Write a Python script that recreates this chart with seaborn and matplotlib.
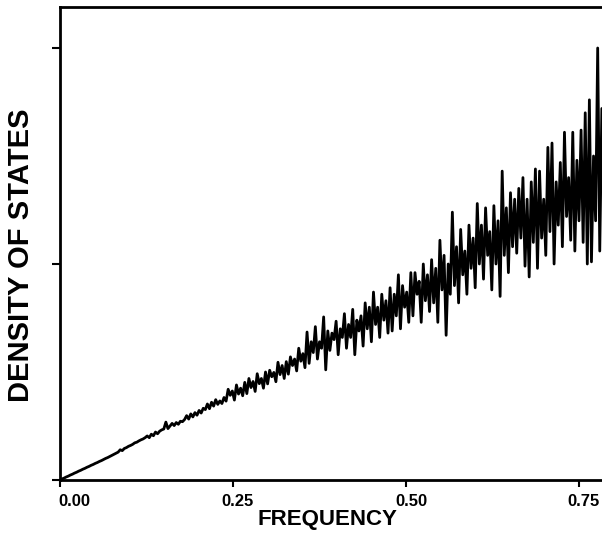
import numpy as np
import pandas as pd
import matplotlib
matplotlib.use("Agg")
import matplotlib.pyplot as plt
import seaborn as sns
from matplotlib.transforms import ScaledTranslation

# ---- data (frequency grid step 0.003) ----
FREQ_STEP = 0.003
dos_low = [
    0.000, 0.005, 0.009, 0.014, 0.018, 0.023, 0.027, 0.032, 0.036, 0.041,
    0.045, 0.050, 0.054, 0.059, 0.063, 0.068, 0.072, 0.077, 0.081, 0.086,
    0.090, 0.095, 0.100, 0.104, 0.109, 0.114, 0.119, 0.124, 0.129, 0.140,
    0.136, 0.146, 0.150, 0.156, 0.160, 0.165, 0.172, 0.175, 0.181, 0.186,
    0.190, 0.196, 0.204, 0.196, 0.212, 0.205, 0.222, 0.214, 0.226, 0.232,
    0.236, 0.268, 0.238, 0.250, 0.262, 0.252, 0.266, 0.258, 0.272, 0.270,
    0.280, 0.298, 0.282, 0.306, 0.292, 0.312, 0.300, 0.322, 0.310, 0.332,
    0.326, 0.352, 0.330, 0.360, 0.342, 0.372, 0.350, 0.366, 0.354, 0.382,
    0.365, 0.420, 0.392, 0.412, 0.370, 0.440, 0.398, 0.425, 0.390, 0.452,
]
dos_mid = [
    0.400, 0.470, 0.428, 0.456, 0.410, 0.492, 0.446, 0.470, 0.425, 0.500,
    0.445, 0.508, 0.478, 0.498, 0.455, 0.545, 0.488, 0.530, 0.470, 0.548,
    0.490, 0.570, 0.530, 0.560, 0.505, 0.610, 0.550, 0.585, 0.520, 0.685,
    0.540, 0.640, 0.590, 0.710, 0.560, 0.640, 0.610, 0.755, 0.510, 0.690,
    0.600, 0.680, 0.650, 0.735, 0.580, 0.700, 0.660, 0.770, 0.610, 0.720,
    0.660, 0.790, 0.580, 0.740, 0.690, 0.760, 0.620, 0.820, 0.700, 0.800,
    0.640, 0.870, 0.720, 0.800, 0.660, 0.860, 0.740, 0.830, 0.680, 0.890,
    0.690, 0.860, 0.760, 0.950, 0.700, 0.900, 0.800, 0.870, 0.730, 0.960,
    0.760, 0.960, 0.860, 0.920, 0.730, 1.000, 0.830, 0.950, 0.780, 1.020,
]
dos_high = [
    0.820, 0.980, 0.730, 1.110, 0.880, 1.040, 0.670, 1.000, 0.860, 1.240,
    0.900, 1.080, 0.820, 1.160, 0.950, 1.060, 0.860, 1.180, 0.980, 1.120,
    0.890, 1.280, 1.000, 1.180, 0.930, 1.260, 1.040, 1.150, 0.880, 1.270,
    1.000, 1.200, 0.850, 1.430, 1.040, 1.260, 0.960, 1.330, 1.080, 1.300,
    1.050, 1.350, 1.120, 1.400, 0.990, 1.300, 0.940, 1.380, 1.100, 1.440,
    0.980, 1.430, 1.120, 1.300, 1.040, 1.540, 1.150, 1.560, 1.000, 1.380,
    1.180, 1.470, 1.080, 1.610, 1.220, 1.400, 1.110, 1.610, 1.060, 1.480,
    1.200, 1.620, 1.100, 1.700, 1.000, 1.760, 1.010, 1.500, 1.200, 2.000,
    1.060, 1.720,
]
x_ticks = [0.00, 0.25, 0.50, 0.75]
x_tick_labels = ["0.00", "0.25", "0.50", "0.75"]
y_ticks = [0, 1, 2]
x_label = "FREQUENCY"
y_label = "DENSITY OF STATES"

dos = np.array(dos_low + dos_mid + dos_high)
freq = np.arange(len(dos)) * FREQ_STEP
df = pd.DataFrame({"frequency": freq, "dos": dos})

# ---- style ----
sns.set_style("ticks")
plt.rcParams["font.family"] = ["Liberation Sans", "DejaVu Sans"]
plt.rcParams["font.weight"] = "bold"
for key in ["text.color", "axes.labelcolor", "xtick.color", "ytick.color",
            "axes.edgecolor"]:
    plt.rcParams[key] = "black"

fig = plt.figure(figsize=(6.02, 5.37), dpi=100)
ax = fig.add_axes([60 / 602, 57 / 537, 542 / 602, 473 / 537])

sns.lineplot(data=df, x="frequency", y="dos", ax=ax, color="black",
             linewidth=2.0)

ax.set_xlim(0, 542 / 692)
ax.set_ylim(0, 473 / 216)

ax.set_xticks(x_ticks)
ax.set_xticklabels(x_tick_labels, fontsize=12, fontweight="bold")
ax.set_yticks(y_ticks)
ax.set_yticklabels([])
ax.tick_params(axis="x", direction="out", length=5, width=1.5, pad=5,
               color="black", labelcolor="black")
ax.tick_params(axis="y", direction="out", length=6, width=1.5, color="black")

# label placement like the reference (first label left-aligned at the tick)
labels = ax.get_xticklabels()
for i, lab in enumerate(labels):
    if i == 0:
        lab.set_horizontalalignment("left")
        lab.set_transform(lab.get_transform() +
                          ScaledTranslation(-2 / 100, 0, fig.dpi_scale_trans))
    else:
        lab.set_transform(lab.get_transform() +
                          ScaledTranslation(5 / 100, 0, fig.dpi_scale_trans))

for side in ["left", "bottom", "top"]:
    ax.spines[side].set_visible(True)
    ax.spines[side].set_linewidth(2.0)
    ax.spines[side].set_color("black")
ax.spines["right"].set_visible(False)

ax.set_xlabel(x_label, fontsize=16, fontweight="bold", color="black")
ax.set_ylabel(y_label, fontsize=21, fontweight="bold", color="black")
ax.xaxis.set_label_coords((327 - 60) / 542, -(509 - 480) / 473)
ax.xaxis.label.set_verticalalignment("top")
ax.yaxis.set_label_coords(-(60 - 35) / 542, (480 - 255) / 473)

fig.savefig("out.png", dpi=100)
